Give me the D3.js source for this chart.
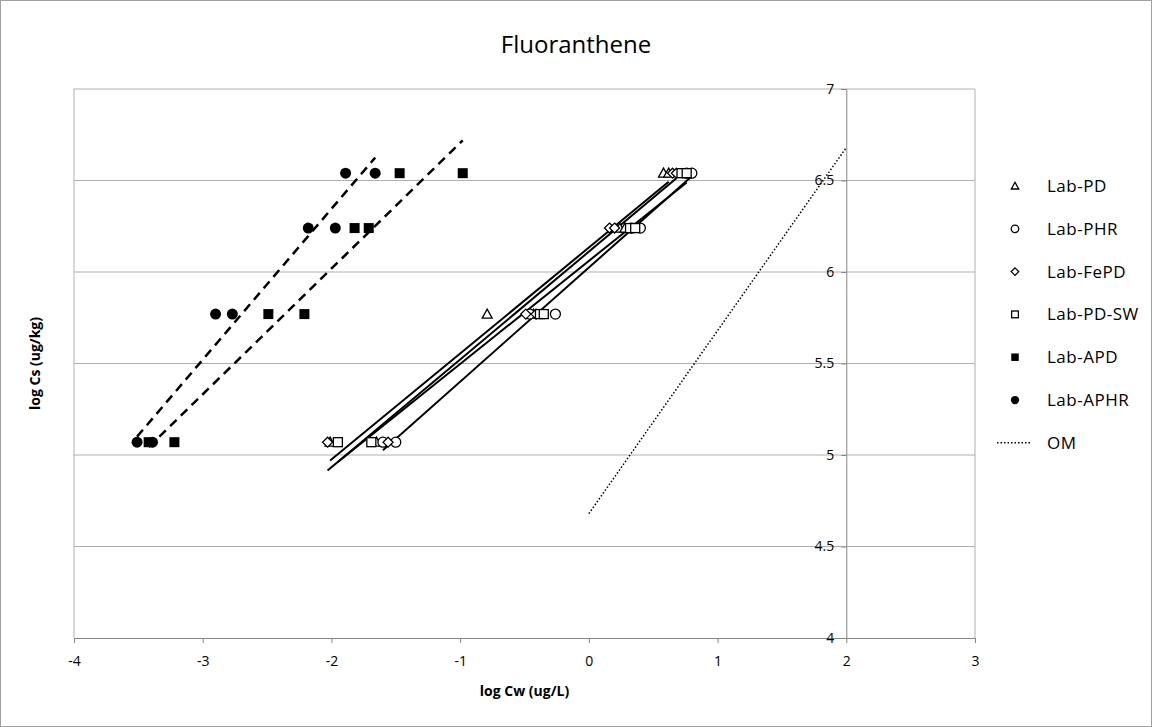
<!DOCTYPE html>
<html>
<head>
<meta charset="utf-8">
<script src="https://cdn.jsdelivr.net/npm/d3@7"></script>
<style>
  html, body { margin: 0; padding: 0; background: #fff; }
  svg { display: block; font-family: "Open Sans", "Liberation Sans", sans-serif; }
</style>
</head>
<body>
<svg id="chart" width="1152" height="727"></svg>
<script>
// ---------- data ----------
const chartTitle = "Fluoranthene";
const xAxisTitle = "log Cw (ug/L)";
const yAxisTitle = "log Cs (ug/kg)";
const xTicks = [-4, -3, -2, -1, 0, 1, 2, 3];
const yTicks = [4, 4.5, 5, 5.5, 6, 6.5, 7];
const yTickLabels = ["4", "4.5", "5", "5.5", "6", "6.5", "7"];

const csLevels = [5.07, 5.07, 5.77, 5.77, 6.24, 6.24, 6.54, 6.54];
const labPD_x   = [-2.01, -1.65, -0.79, -0.43, 0.24, 0.28, 0.58, 0.62];
const labPHR_x  = [-1.60, -1.50, -0.46, -0.26, 0.33, 0.40, 0.76, 0.80];
const labFePD_x = [-2.03, -1.56, -0.49, -0.41, 0.16, 0.20, 0.65, 0.68];
const labPDSW_x = [-1.95, -1.69, -0.38, -0.35, 0.32, 0.36, 0.72, 0.76];
const labAPD_x  = [-3.42, -3.22, -2.49, -2.21, -1.82, -1.71, -1.47, -0.98];
const labAPHR_x = [-3.51, -3.39, -2.90, -2.77, -2.18, -1.97, -1.89, -1.66];
const om_x = [0, 2];
const om_y = [4.68, 6.68];

const seriesNames = ["Lab-PD", "Lab-PHR", "Lab-FePD", "Lab-PD-SW", "Lab-APD", "Lab-APHR", "OM"];
const seriesX = [labPD_x, labPHR_x, labFePD_x, labPDSW_x, labAPD_x, labAPHR_x];
const seriesMarker = ["triangle", "circle", "diamond", "square", "squareFilled", "circleFilled"];
const seriesTrend = ["solid", "solid", "solid", "solid", "dashed", "dashed"];

// ---------- layout ----------
const W = 1152, H = 727;
const svg = d3.select("#chart");
const x = d3.scaleLinear().domain([-4, 3]).range([74, 975]);
const y = d3.scaleLinear().domain([4, 7]).range([638, 89]);

// outer border
svg.append("rect").attr("x", 0.5).attr("y", 0.5).attr("width", W - 1).attr("height", H - 1)
  .attr("fill", "#fff").attr("stroke", "#a0a0a0");

// title
svg.append("text").attr("x", 576).attr("y", 53).attr("text-anchor", "middle")
  .attr("font-size", 24).attr("fill", "#000").text(chartTitle);

// gridlines
svg.append("g").selectAll("line").data(yTicks.filter(d => d !== 4)).join("line")
  .attr("x1", x(-4)).attr("x2", x(3))
  .attr("y1", d => y(d)).attr("y2", d => y(d))
  .attr("stroke", "#b0b0b0").attr("stroke-width", 1);

// plot-area side borders
svg.append("line").attr("x1", x(-4)).attr("x2", x(-4)).attr("y1", y(7)).attr("y2", y(4))
  .attr("stroke", "#b0b0b0");
svg.append("line").attr("x1", x(3)).attr("x2", x(3)).attr("y1", y(7)).attr("y2", y(4))
  .attr("stroke", "#b0b0b0");

// x axis
const xAxis = d3.axisBottom(x).tickValues(xTicks).tickSize(5).tickFormat(d3.format("d"));
const gx = svg.append("g").attr("transform", `translate(0,${y(4)})`).call(xAxis)
  .attr("font-size", 14).attr("font-family", "'Open Sans', sans-serif");
gx.select(".domain").attr("stroke", "#868686");
gx.selectAll(".tick line").attr("stroke", "#868686");
gx.selectAll(".tick text").attr("fill", "#000").attr("y", 15).attr("dy", "0.9em")
  .text(d => d < 0 ? "-" + Math.abs(d) : d);

// y axis at x = 2
const yAxis = d3.axisLeft(y).tickValues(yTicks).tickSize(5).tickFormat((d, i) => yTickLabels[i]);
const gy = svg.append("g").attr("transform", `translate(${x(2)},0)`).call(yAxis)
  .attr("font-size", 14).attr("font-family", "'Open Sans', sans-serif");
gy.select(".domain").attr("stroke", "#868686");
gy.selectAll(".tick line").attr("stroke", "#868686");
gy.selectAll(".tick text").attr("fill", "#000").attr("x", -12);

// axis titles
svg.append("text").attr("x", x(-0.5)).attr("y", 696).attr("text-anchor", "middle")
  .attr("font-size", 14).attr("font-weight", "bold").text(xAxisTitle);
svg.append("text").attr("transform", `translate(40,${y(5.5)}) rotate(-90)`)
  .attr("text-anchor", "middle").attr("font-size", 14).attr("font-weight", "bold").text(yAxisTitle);

// ---------- trend lines (least squares over each series) ----------
function fit(xs, ys) {
  const n = xs.length;
  const mx = d3.mean(xs), my = d3.mean(ys);
  let sxy = 0, sxx = 0;
  for (let i = 0; i < n; i++) { sxy += (xs[i] - mx) * (ys[i] - my); sxx += (xs[i] - mx) ** 2; }
  const b = sxy / sxx, a = my - b * mx;
  const x0 = d3.min(xs), x1 = d3.max(xs);
  return [[x0, a + b * x0], [x1, a + b * x1]];
}
const lineGen = d3.line().x(d => x(d[0])).y(d => y(d[1]));
const gTrend = svg.append("g");
seriesX.forEach((xs, i) => {
  const seg = fit(xs, csLevels);
  const p = gTrend.append("path").attr("d", lineGen(seg)).attr("fill", "none")
    .attr("stroke", "#000");
  if (seriesTrend[i] === "dashed") p.attr("stroke-width", 2.5).attr("stroke-dasharray", "9,6");
  else p.attr("stroke-width", 2);
});

// OM line (dotted)
svg.append("path").attr("d", lineGen(om_x.map((v, i) => [v, om_y[i]])))
  .attr("fill", "none").attr("stroke", "#000").attr("stroke-width", 1.5)
  .attr("stroke-dasharray", "1.5,2");

// ---------- markers ----------
function drawMarker(g, type, cx, cy, s) {
  const r = s / 2;
  switch (type) {
    case "triangle":
      g.append("path").attr("d", `M${cx},${cy - r}L${cx + r},${cy + r * 0.8}L${cx - r},${cy + r * 0.8}Z`)
        .attr("fill", "#fff").attr("stroke", "#000").attr("stroke-width", 1.3); break;
    case "circle":
      g.append("circle").attr("cx", cx).attr("cy", cy).attr("r", r)
        .attr("fill", "#fff").attr("stroke", "#000").attr("stroke-width", 1.3); break;
    case "diamond":
      g.append("path").attr("d", `M${cx},${cy - r}L${cx + r},${cy}L${cx},${cy + r}L${cx - r},${cy}Z`)
        .attr("fill", "#fff").attr("stroke", "#000").attr("stroke-width", 1.3); break;
    case "square":
      g.append("rect").attr("x", cx - r * 0.9).attr("y", cy - r * 0.9).attr("width", r * 1.8).attr("height", r * 1.8)
        .attr("fill", "#fff").attr("stroke", "#000").attr("stroke-width", 1.3); break;
    case "squareFilled":
      g.append("rect").attr("x", cx - r).attr("y", cy - r).attr("width", 2 * r).attr("height", 2 * r)
        .attr("fill", "#000"); break;
    case "circleFilled":
      g.append("circle").attr("cx", cx).attr("cy", cy).attr("r", r * 1.1).attr("fill", "#000"); break;
  }
}
const gPts = svg.append("g");
seriesX.forEach((xs, i) => {
  xs.forEach((v, j) => drawMarker(gPts, seriesMarker[i], x(v), y(csLevels[j]), 10));
});

// ---------- legend ----------
const gLeg = svg.append("g");
seriesNames.forEach((name, i) => {
  const ly = 186 + i * 42.8;
  if (i < seriesMarker.length) {
    drawMarker(gLeg, seriesMarker[i], 1015, ly, 7.5);
  } else {
    gLeg.append("line").attr("x1", 997).attr("x2", 1031).attr("y1", ly).attr("y2", ly)
      .attr("stroke", "#000").attr("stroke-width", 1.5).attr("stroke-dasharray", "1.5,2");
  }
  gLeg.append("text").attr("x", 1047).attr("y", ly).attr("dy", "0.35em")
    .attr("font-size", 17).attr("letter-spacing", 0.5).attr("fill", "#000").text(name);
});
</script>
</body>
</html>
